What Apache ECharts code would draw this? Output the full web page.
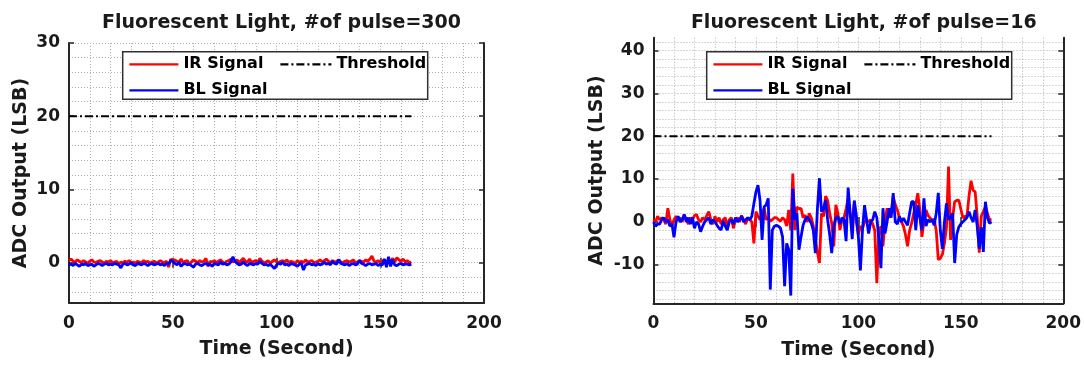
<!DOCTYPE html>
<html>
<head>
<meta charset="utf-8">
<script src="https://cdn.jsdelivr.net/npm/echarts@6/dist/echarts.min.js"></script>
<style>
html,body{margin:0;padding:0;background:#fff;}
#c{width:1084px;height:365px;}
</style>
</head>
<body>
<div id="c"></div>
<script>
// ---------------- DATA ----------------
const titles = ['Fluorescent Light, #of pulse=300', 'Fluorescent Light, #of pulse=16'];
const seriesNames = ['IR Signal', 'BL Signal', 'Threshold'];
const time = Array.from({length: 166}, (_, i) => i); // seconds 0..165

// Left plot (#of pulse = 300)
const irLeft = [
0.3,0.5,0.2,0.1,0.4,0.2,0.0,0.3,0.1,-0.1,
0.2,0.4,0.1,0.0,0.2,0.3,0.1,-0.1,0.2,0.1,
0.3,0.0,0.1,0.2,-0.2,0.1,0.0,0.2,0.1,0.3,
0.0,0.1,-0.1,0.2,0.1,0.0,0.3,0.1,0.2,-0.1,
0.1,0.2,0.0,0.1,0.3,0.1,0.0,0.2,-0.6,0.5,
0.3,0.4,0.2,0.1,0.5,0.0,0.2,0.3,-0.2,0.1,
0.4,0.2,0.0,0.3,0.1,0.2,0.6,-0.5,0.2,0.1,
0.3,0.0,0.2,0.4,0.1,-0.1,0.2,0.3,0.5,0.1,
0.2,0.4,0.0,0.3,0.6,0.2,0.1,0.5,0.0,0.2,
0.3,0.1,0.6,0.2,0.0,0.1,0.3,-0.1,0.2,0.4,
0.1,0.0,0.2,0.3,0.1,0.4,0.0,0.2,0.1,-0.2,
0.3,0.1,0.2,0.0,0.4,0.1,0.2,0.3,0.0,0.1,
0.2,0.4,0.1,0.3,0.5,0.2,0.0,0.3,0.1,0.2,
0.4,0.1,0.0,0.2,0.3,0.1,0.2,0.4,0.0,0.1,
0.3,0.2,0.1,0.4,0.2,0.5,0.9,0.2,0.1,0.3,
0.0,0.2,0.4,0.1,0.3,0.2,0.6,0.1,0.7,0.4,
0.2,0.5,0.1,0.3,0.0,0.1];
const blLeft = [
-0.3,-0.2,-0.4,-0.1,-0.3,-0.5,-0.2,-0.3,-0.1,-0.4,
-0.3,-0.2,-0.5,-0.3,-0.1,-0.2,-0.4,-0.2,-0.1,-0.3,
-0.2,-0.3,-0.1,-0.2,-0.3,-0.7,-0.2,-0.1,-0.3,-0.2,
0.0,-0.3,-0.4,-0.1,-0.2,-0.3,-0.1,-0.2,-0.4,-0.2,
-0.1,-0.3,-0.2,-0.1,-0.3,-0.2,-0.4,-0.1,-0.2,0.3,
0.2,-0.1,-0.3,0.1,-0.5,-0.2,-0.1,-0.3,-0.2,-0.4,
-0.6,-0.2,-0.1,-0.3,-0.4,-0.2,-0.1,-0.3,-0.2,-0.5,
-0.1,-0.2,-0.3,0.1,-0.2,-0.1,-0.3,-0.2,0.1,0.8,
0.2,-0.1,-0.3,-0.2,0.1,-0.2,-0.4,-0.1,-0.2,-0.3,
-0.1,-0.2,0.2,-0.1,-0.3,-0.2,-0.4,-0.2,-0.5,-0.8,
-0.3,-0.1,-0.2,0.1,-0.3,-0.2,-0.4,-0.1,-0.2,-0.3,
-0.5,-0.2,-0.1,-1.0,-0.3,-0.2,-0.1,-0.3,-0.2,-0.4,
-0.1,-0.3,-0.2,0.1,-0.2,-0.1,-0.3,0.2,-0.1,-0.2,
0.4,-0.1,-0.2,-0.3,-0.1,-0.4,-0.2,-0.1,-0.3,-0.2,
0.3,-0.1,-0.2,-0.4,-0.2,-0.1,-0.3,-0.2,-0.1,-0.4,
-0.2,-0.3,0.5,-0.6,0.8,-0.5,0.4,-0.3,-0.4,-0.2,
-0.1,-0.3,-0.2,-0.2,-0.3,-0.2];

// Right plot (#of pulse = 16)
const irRight = [
0.5,0,1.3,0.5,1,0.5,-0.5,3.2,0.5,-1,
0.5,1.3,0.5,1,0,1.7,0.5,-0.5,1,0.5,
1.5,1.7,0.5,0,1,0.5,1.5,2.4,0.5,-0.5,
1.3,0,1,-0.5,0.5,1,-1,0.5,1,-1.5,
0.5,1,0,1.5,0.5,-0.5,1,0.5,0,-5,
2.4,1.3,0.5,2,3.2,0.5,1,0.2,0.5,1,
1,0.5,0.2,1,0.5,-1,2.8,-2,11.3,-1.9,
3.5,3,3.2,1,1.6,0,2,1,-1,-4.2,
-7,-9.6,2,1.3,6,5,2,-0.3,-5.7,4,
2,-1.9,0.5,1,3,5.5,1.3,0.5,4.3,0,
-3,-1,-1.5,0,0.5,0,0.5,-0.5,-2,-14.3,
-2.6,-1,-5.7,0,3.2,1,2,5.9,4,2.8,
1,0,-1,-3,-5.7,-2,-0.3,2,4,6.7,
2.8,-3.5,0,2.8,1.5,0.9,0.5,0.5,-2,-8.8,
-8.5,-7.6,-5,-1.2,12.9,-4.2,1,4.7,5,5.1,
3,0.9,1.3,1.3,6,9.6,7.4,7,1.3,-7.2,
1.3,2.4,3.6,2,0.5,0.5];
const blRight = [
0,-1,-0.5,-0.5,0.5,1,0,0.5,-1,-0.5,
-3.6,0,1.3,0,0.5,1.7,0,1,-0.5,1,
-1.5,0,-0.5,-2.3,-1,0,0.5,1,-0.5,0.5,
0,-0.8,-1.5,-1.9,0.2,-1,-1.9,0,0.5,-0.5,
1,0,0.5,1.3,0,0.5,1,0.5,1.3,4.3,
7,8.6,5,-4.2,3.5,4,5.5,-15.8,-1.9,-1,
-0.8,-1,-1.5,-3.5,-15,-5,-6.5,-17.2,7.8,0.5,
2,-6.5,-3.5,-0.8,0.5,1.2,0.5,-0.3,-2,-7.3,
3,10.2,2.4,3,5.1,0.5,-3,-7.3,-1,0.9,
1.3,-0.5,1,0.5,-4.5,8,2,-4,5,1.5,
-3.5,-11.3,-2,3.9,0.5,-2.7,0,0.5,2.4,1,
-4,-10.8,3.2,-2.7,0,3.2,1,6.7,0,-0.5,
1.3,0,0.9,0,-0.8,2,4.7,4.7,-1.9,3.9,
1,-1.9,5.5,-1,0.5,0,0.5,-0.8,2,6.8,
-2,-6.3,0,4.3,0.5,1,2,-9.6,-3,-1.2,
-0.5,0,0.5,1,2.4,1,0,2.8,-1,-6.3,
-1.2,-7,4.7,1,-0.3,0];

const thresholdValue = 20;
const thresholdSpan = [0, 165];

// axis ranges and tick values
const xRange = [0, 200];
const xLabels = [0, 50, 100, 150, 200];
const yRangeLeft = [-5.5, 30];
const yGridLeft = [-4,-2,0,2,4,6,8,10,12,14,16,18,20,22,24,26,28,30];
const yLabelsLeft = [0, 10, 20, 30];
const yRangeRight = [-19, 43];
const yGridRight = [-18,-16,-14,-12,-10,-8,-6,-4,-2,0,2,4,6,8,10,12,14,16,18,20,22,24,26,28,30,32,34,36,38,40,42];
const yLabelsRight = [-10, 0, 10, 20, 30, 40];

// ---------------- STYLE ----------------
const FONT = 'DejaVu Sans';
const TXT = '#1a1a1a';
const AX = '#262626';
const GRIDC = '#b0b0b0';

const grids = [
  {left: 69, top: 43, width: 415, height: 260},
  {left: 653.5, top: 37.7, width: 410.5, height: 265.6}
];

const chart = echarts.init(document.getElementById('c'), null, {renderer: 'canvas'});

const xAxes = [], yAxes = [], series = [], titleOpts = [], legends = [], graphics = [];
const panels = [
  {ir: irLeft, bl: blLeft, yr: yRangeLeft, yg: yGridLeft, yl: yLabelsLeft, nameGapY: 38},
  {ir: irRight, bl: blRight, yr: yRangeRight, yg: yGridRight, yl: yLabelsRight, nameGapY: 47}
];

panels.forEach((p, gi) => {
  const g = grids[gi];
  const labelStyle = {fontFamily: FONT, fontWeight: 'bold', fontSize: 17, color: TXT};
  xAxes.push({
    gridIndex: gi, type: 'value', position: 'bottom', min: xRange[0], max: xRange[1], interval: 10,
    axisLine: {show: true, onZero: false, lineStyle: {color: AX, width: 2}},
    axisTick: {show: false},
    axisLabel: Object.assign({customValues: xLabels, margin: 12}, labelStyle),
    splitLine: {show: true, lineStyle: {color: GRIDC, width: 1, type: [1, 2]}},
    name: 'Time (Second)', nameLocation: 'middle', nameGap: 37,
    nameTextStyle: {fontFamily: FONT, fontWeight: 'bold', fontSize: 19, color: TXT}
  });
  xAxes.push({
    gridIndex: gi, type: 'value', position: 'bottom', min: xRange[0], max: xRange[1], interval: 50,
    axisLine: {show: false}, axisLabel: {show: false}, splitLine: {show: false},
    axisTick: {show: true, inside: true, length: 5, lineStyle: {color: AX, width: 1.5}}
  });
  xAxes.push({
    gridIndex: gi, type: 'value', position: 'top', min: xRange[0], max: xRange[1], interval: 50,
    axisLine: {show: false}, axisLabel: {show: false}, splitLine: {show: false},
    axisTick: {show: true, inside: true, length: 5, lineStyle: {color: AX, width: 1.5}}
  });
  yAxes.push({
    gridIndex: gi, type: 'value', position: 'left', min: p.yr[0], max: p.yr[1],
    axisLine: {show: true, onZero: false, lineStyle: {color: AX, width: 2}},
    axisTick: {show: false, customValues: p.yg},
    axisLabel: Object.assign({customValues: p.yl, margin: 9}, labelStyle),
    splitLine: {show: true, lineStyle: {color: GRIDC, width: 1, type: [1, 2]}},
    name: 'ADC Output (LSB)', nameLocation: 'middle', nameGap: p.nameGapY,
    nameTextStyle: {fontFamily: FONT, fontWeight: 'bold', fontSize: 19, color: TXT}
  });
  yAxes.push({
    gridIndex: gi, type: 'value', position: 'left', min: p.yr[0], max: p.yr[1],
    axisLine: {show: false}, axisLabel: {show: false}, splitLine: {show: false},
    axisTick: {show: true, inside: true, length: 5, customValues: p.yl, lineStyle: {color: AX, width: 1.5}}
  });
  yAxes.push({
    gridIndex: gi, type: 'value', position: 'right', min: p.yr[0], max: p.yr[1],
    axisLine: {show: true, onZero: false, lineStyle: {color: AX, width: 2}},
    axisLabel: {show: false}, splitLine: {show: false},
    axisTick: {show: true, inside: true, length: 5, customValues: p.yl, lineStyle: {color: AX, width: 1.5}}
  });

  const xi = gi * 3, yi = gi * 3;
  series.push({
    type: 'line', name: seriesNames[0], xAxisIndex: xi, yAxisIndex: yi,
    data: time.map((t, i) => [t, p.ir[i]]), symbol: 'none', showSymbol: false,
    lineStyle: {color: '#ff0000', width: 2.8}, itemStyle: {color: '#ff0000'}, z: 2
  });
  series.push({
    type: 'line', name: seriesNames[1], xAxisIndex: xi, yAxisIndex: yi,
    data: time.map((t, i) => [t, p.bl[i]]), symbol: 'none', showSymbol: false,
    lineStyle: {color: '#0000ff', width: 2.8}, itemStyle: {color: '#0000ff'}, z: 3
  });
  series.push({
    type: 'line', name: seriesNames[2], xAxisIndex: xi, yAxisIndex: yi,
    data: thresholdSpan.map(t => [t, thresholdValue]), symbol: 'none', showSymbol: false,
    lineStyle: {color: '#000000', width: 2, type: [8, 3, 2, 3]}, itemStyle: {color: '#000000'}, z: 3
  });

  titleOpts.push({
    text: titles[gi], left: g.left + g.width / 2, top: 9, textAlign: 'center',
    textStyle: {fontFamily: FONT, fontWeight: 'bold', fontSize: 19, color: TXT}
  });

  const boxX = g.left + 53.7 + (gi === 0 ? 0 : -0.5);
  const boxY = 51.7;
  graphics.push({
    type: 'rect', z: 5, shape: {x: boxX, y: boxY, width: 305, height: 47.6},
    style: {fill: '#ffffff', stroke: '#303030', lineWidth: 1.5}
  });
  const legText = {fontFamily: FONT, fontWeight: 'bold', fontSize: 16, color: '#000'};
  const legCommon = {
    orient: 'vertical', itemHeight: 14, itemGap: 10, textStyle: legText, selectedMode: false, z: 10,
    itemStyle: {opacity: 0, borderWidth: 0}, lineStyle: {width: 2.2}
  };
  legends.push(Object.assign({
    data: [seriesNames[0], seriesNames[1]],
    left: boxX + 5.6 - 5, top: boxY + 4.6 - 5, itemWidth: 49
  }, legCommon));
  legends.push(Object.assign({
    data: [seriesNames[2]],
    left: boxX + 156.6 - 5, top: boxY + 4.6 - 5, itemWidth: 51
  }, legCommon));
});

chart.setOption({
  animation: false,
  backgroundColor: '#ffffff',
  title: titleOpts,
  grid: grids,
  xAxis: xAxes,
  yAxis: yAxes,
  legend: legends,
  graphic: graphics,
  series: series
});
</script>
</body>
</html>
